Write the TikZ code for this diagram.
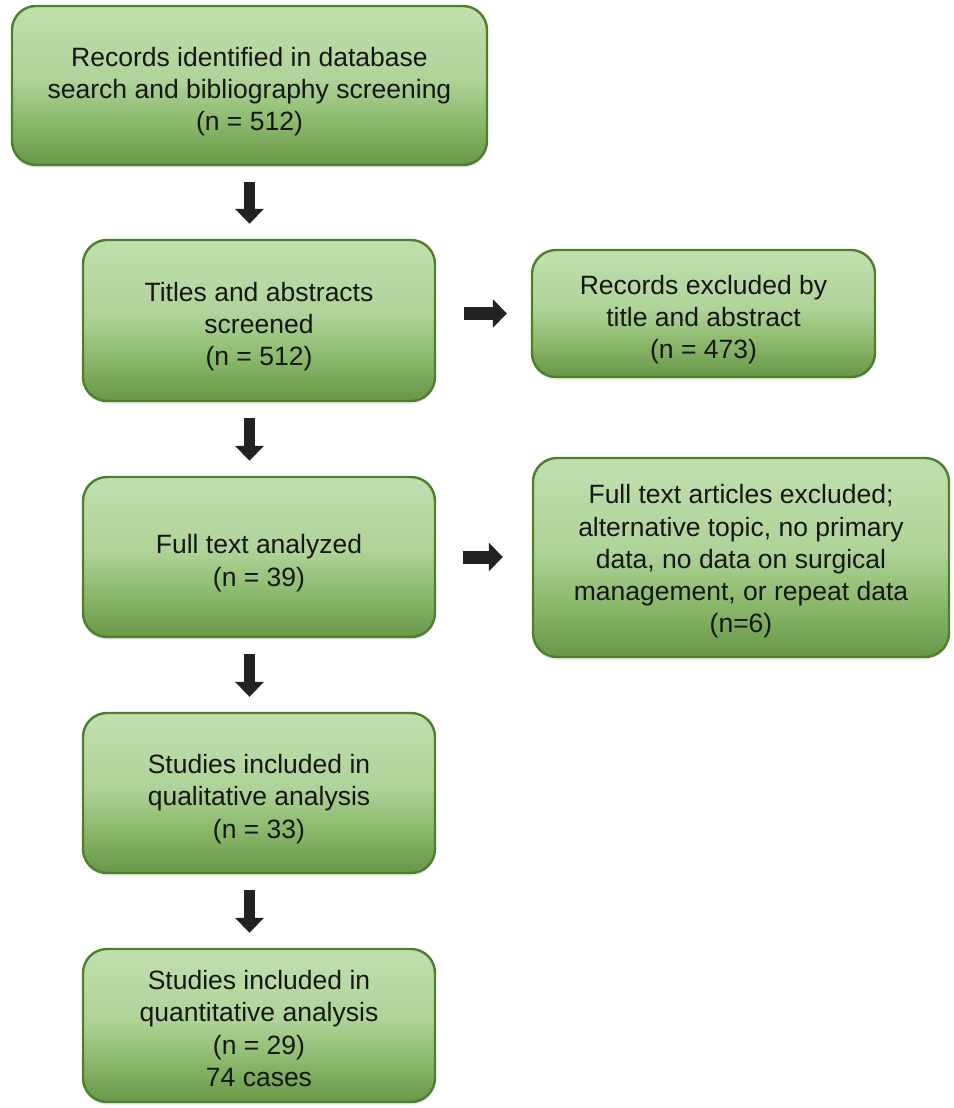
\documentclass[tikz,border=0pt]{standalone}
\usepackage{fontspec}
\setmainfont{Liberation Sans}
\usetikzlibrary{arrows.meta,shadows,calc}
\definecolor{gT}{RGB}{193,223,174}
\definecolor{gL}{RGB}{176,211,153}
\definecolor{gM}{RGB}{143,188,112}
\definecolor{gB}{RGB}{104,151,70}
\definecolor{gBorder}{RGB}{76,128,46}
\definecolor{txt}{RGB}{22,22,22}
\definecolor{arr}{RGB}{34,34,34}
\pgfdeclareverticalshading{greenbox}{100bp}{color(0bp)=(gB); color(25bp)=(gB); color(40bp)=(gM); color(52bp)=(gL); color(75bp)=(gT); color(100bp)=(gT)}
\tikzset{
  gbox/.style={draw=gBorder, line width=2.4pt, rounded corners=24pt, shading=greenbox,
    inner sep=0pt,
    drop shadow={opacity=0.18, shadow xshift=0pt, shadow yshift=-2.5pt}},
  gtext/.style={align=center, inner sep=0pt, text=txt, yshift=-6pt,
    font=\fontsize{26.5}{32.3}\selectfont},
  blockarrow/.style={draw=arr, line width=11pt,
    -{Triangle[width=28pt,length=15pt]}, shorten <=16pt, shorten >=15pt},
  sidearrow/.style={draw=arr, line width=13pt,
    -{Triangle[width=28pt,length=14pt]}}
}
\begin{document}
\begin{tikzpicture}[x=1pt,y=-1pt]
\useasboundingbox (0,0) rectangle (953,1108);
\fill[white] (0,0) rectangle (953,1108);
\node[gbox, minimum width=475pt, minimum height=159pt,
  label={[gtext]center:Records identified in database\\search and bibliography screening\\(n = 512)}] (b1) at (249.5,85.5) {};
\node[gbox, minimum width=352pt, minimum height=161pt,
  label={[gtext]center:Titles and abstracts\\screened\\(n = 512)}] (b2) at (259,320.5) {};
\node[gbox, minimum width=352pt, minimum height=160pt,
  label={[gtext]center:Full text analyzed\\(n = 39)}] (b3) at (259,557) {};
\node[gbox, minimum width=352pt, minimum height=160pt,
  label={[gtext]center:Studies included in\\qualitative analysis\\(n = 33)}] (b4) at (259,793) {};
\node[gbox, minimum width=352pt, minimum height=153pt,
  label={[gtext, yshift=3pt]center:Studies included in\\quantitative analysis\\(n = 29)\\74 cases}] (b5) at (259,1025.5) {};
\node[gbox, minimum width=343pt, minimum height=127pt,
  label={[gtext]center:Records excluded by\\title and abstract\\(n = 473)}] (r1) at (703.5,313.5) {};
\node[gbox, minimum width=416pt, minimum height=199pt,
  label={[gtext, yshift=2pt]center:Full text articles excluded;\\alternative topic, no primary\\data, no data on surgical\\management, or repeat data\\(n=6)}] (r2) at (741,557.5) {};
\draw[blockarrow] (b1.south) -- (b1.south |- b2.north);
\draw[blockarrow] (b2.south -| b1.south) -- (b1.south |- b3.north);
\draw[blockarrow] (b3.south -| b1.south) -- (b1.south |- b4.north);
\draw[blockarrow] (b4.south -| b1.south) -- (b1.south |- b5.north);
\draw[sidearrow, shorten <=28pt, shorten >=24pt] (b2.east |- r1.west) -- (r1.west);
\draw[sidearrow, shorten <=27pt, shorten >=29pt] (b3.east) -- (b3.east -| r2.west);
\end{tikzpicture}
\end{document}
